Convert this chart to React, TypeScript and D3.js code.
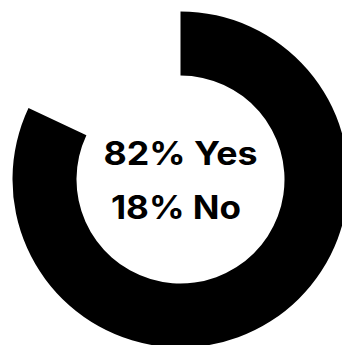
import React from "react";
import * as d3 from "d3";

const categories = ["Yes", "No"];
const values = [82, 18];
const labels = ["82% Yes", "18% No"];

export default function App() {
  const width = 342;
  const height = 345;
  const cx = 180.5;
  const cy = 179.5;
  const outerR = 168;
  const innerR = 104;

  const pie = d3
    .pie<number>()
    .sort(null)
    .value((d) => d);
  const arcs = pie(values);
  const arc = d3.arc<d3.PieArcDatum<number>>().innerRadius(innerR).outerRadius(outerR);
  const colors = ["#000000", "none"];

  return (
    <svg
      width={width}
      height={height}
      style={{ position: "absolute", left: 0, top: 0, background: "#fff" }}
    >
      <g transform={`translate(${cx},${cy})`}>
        {arcs.map((a, i) => (
          <path key={categories[i]} d={arc(a) || ""} fill={colors[i]} />
        ))}
      </g>
      <text
        x={180.5}
        y={165}
        textAnchor="middle"
        fontFamily="Inter, 'Noto Sans', sans-serif"
        fontWeight={700}
        fontSize={32}
        textLength={154}
        lengthAdjust="spacingAndGlyphs"
        fill="#000"
      >
        {labels[0]}
      </text>
      <text
        x={176}
        y={219}
        textAnchor="middle"
        fontFamily="Inter, 'Noto Sans', sans-serif"
        fontWeight={700}
        fontSize={32}
        textLength={130}
        lengthAdjust="spacingAndGlyphs"
        fill="#000"
      >
        {labels[1]}
      </text>
    </svg>
  );
}
